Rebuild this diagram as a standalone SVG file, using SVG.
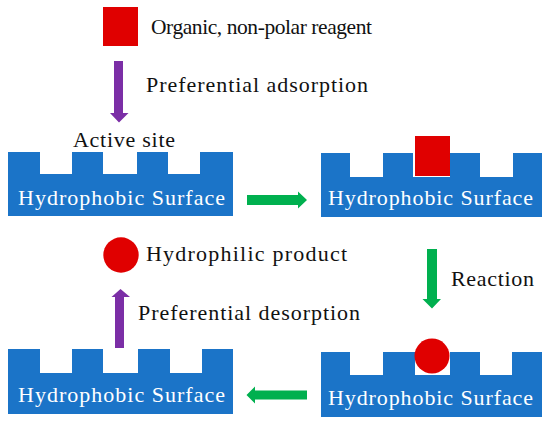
<svg xmlns="http://www.w3.org/2000/svg" width="550" height="425" viewBox="0 0 550 425">
<style>
.surf{fill:#1b74c8}
.st{font-family:"Liberation Serif","Times New Roman",serif;font-size:22px;fill:#ffffff}
.lb{font-family:"Liberation Serif","Times New Roman",serif;font-size:22px;fill:#111111}
.red{fill:#e00000}
.pur{fill:#7b2ea6}
.grn{fill:#00b04f}
</style>
<rect width="550" height="425" fill="#ffffff"/>
<g id="surface-top-left">
<path class="surf" d="M8,152H40V174H72V152H103V174H137V152H168V174H200V152H233V216H8Z"/>
<text class="st" x="18" y="205" textLength="207" lengthAdjust="spacing">Hydrophobic Surface</text>
</g>
<g id="surface-top-right">
<path class="surf" d="M321,153H350V177H383V153H413V177H450V153H480V177H513V153H542V217H321Z"/>
<rect class="red" x="415" y="136" width="35" height="40"/>
<text class="st" x="328" y="205" textLength="205" lengthAdjust="spacing">Hydrophobic Surface</text>
</g>
<g id="surface-bottom-left">
<path class="surf" d="M8,349H40V373H72V349H103V373H138V349H170V373H202V349H233V414H8Z"/>
<text class="st" x="18" y="402" textLength="207" lengthAdjust="spacing">Hydrophobic Surface</text>
</g>
<g id="surface-bottom-right">
<path class="surf" d="M321,352H350V375H383V352H415V375H450V352H480V375H512V352H542V417H321Z"/>
<circle class="red" cx="432" cy="356" r="17.5"/>
<text class="st" x="328" y="405" textLength="205" lengthAdjust="spacing">Hydrophobic Surface</text>
</g>
<g id="reagent">
<rect class="red" x="103" y="7" width="35" height="39"/>
<text class="lb" x="151" y="34" textLength="221" lengthAdjust="spacing" style="font-size:21.5px">Organic, non-polar reagent</text>
</g>
<g id="product">
<circle class="red" cx="121" cy="255" r="17.7"/>
<text class="lb" x="146" y="261" textLength="201" lengthAdjust="spacing">Hydrophilic product</text>
</g>
<g id="active-site">
<text class="lb" x="73" y="147" textLength="102" lengthAdjust="spacing">Active site</text>
</g>
<g id="connectors">
<polygon class="pur" points="114,61 123,61 123,113 128.5,113 119,122.5 110,113 114,113"/>
<text class="lb" x="146" y="92" textLength="222" lengthAdjust="spacing">Preferential adsorption</text>
<polygon class="pur" points="115,348 124,348 124,297 130,297 120.5,289 111.5,297 115,297"/>
<text class="lb" x="138" y="320" textLength="222" lengthAdjust="spacing">Preferential desorption</text>
<polygon class="grn" points="247,195 298,195 298,191.5 307,200 298,208.5 298,205 247,205"/>
<polygon class="grn" points="427,249 437,249 437,299 441,299 432,308.5 422.5,299 427,299"/>
<text class="lb" x="451" y="286" textLength="83" lengthAdjust="spacing">Reaction</text>
<polygon class="grn" points="307,390.5 255,390.5 255,386.5 246.5,395 255,403.5 255,399.5 307,399.5"/>
</g>
</svg>
